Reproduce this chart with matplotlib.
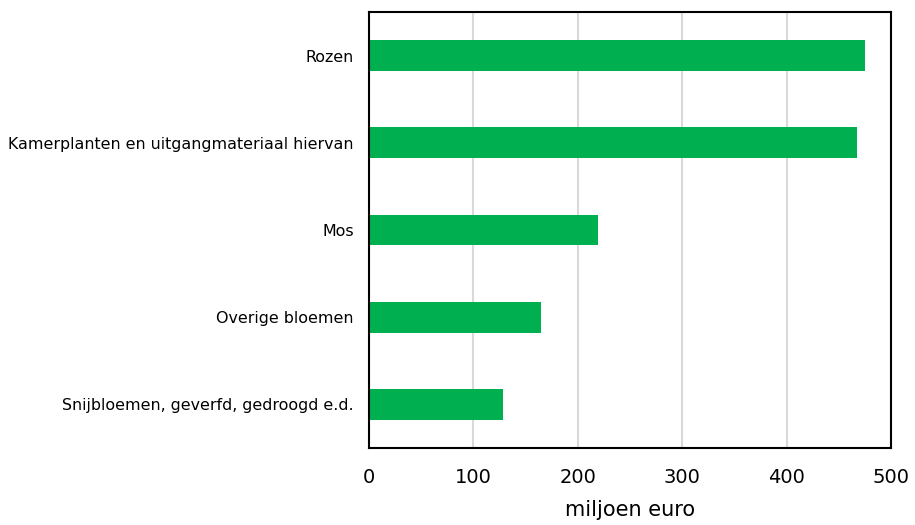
import matplotlib.pyplot as plt

# waarden in miljoen euro, van boven naar beneden
categorieen = [
    "Rozen",
    "Kamerplanten en uitgangmateriaal hiervan",
    "Mos",
    "Overige bloemen",
    "Snijbloemen, geverfd, gedroogd e.d.",
]
waarden = [475, 467, 219, 165, 128]
x_ticks = [0, 100, 200, 300, 400, 500]

fig = plt.figure(figsize=(9.15, 5.25), dpi=100)
ax = fig.add_axes([0.4033, 0.1467, 0.5705, 0.8304])

posities = list(range(len(categorieen)))
ax.barh(posities, waarden, height=0.355, color="#00b050", zorder=3)
ax.set_yticks(posities)
ax.set_yticklabels(categorieen, fontsize=11.4)
ax.set_ylim(len(categorieen) - 0.5, -0.5)

ax.set_xlim(0, 500)
ax.set_xticks(x_ticks)
ax.tick_params(axis="x", labelsize=14, length=0, pad=14.5)
ax.tick_params(axis="y", length=0, pad=11)
ax.set_xlabel("miljoen euro", fontsize=15, labelpad=9.5)

ax.grid(axis="x", color="#d9d9d9", linewidth=1.5, zorder=0)
for spine in ax.spines.values():
    spine.set_linewidth(1.5)
    spine.set_color("black")
    spine.set_zorder(4)

fig.savefig("out.png", dpi=100)
